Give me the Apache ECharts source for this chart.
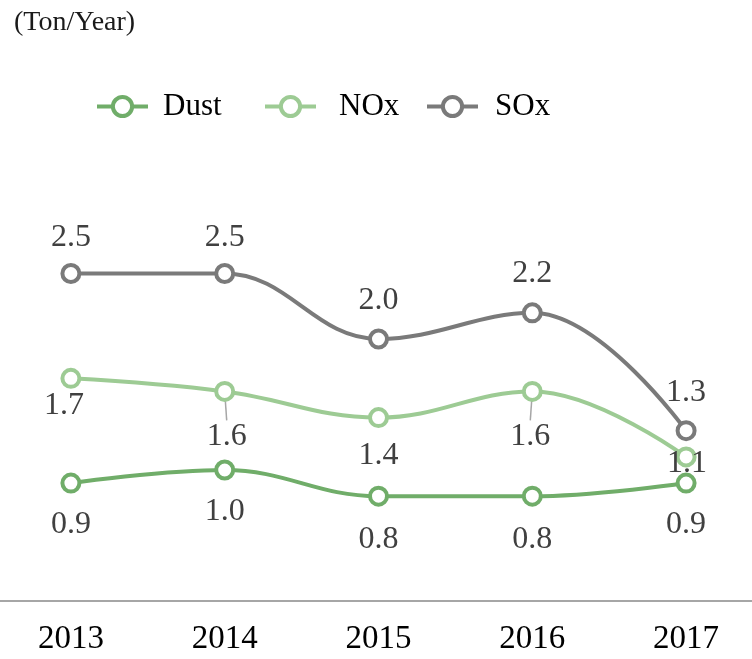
<!DOCTYPE html>
<html>
<head>
<meta charset="utf-8">
<script src="https://cdn.jsdelivr.net/npm/echarts@6/dist/echarts.min.js"></script>
<style>
html,body{margin:0;padding:0;background:#fff;}
#chart{width:752px;height:659px;}
</style>
</head>
<body>
<div id="chart"></div>
<script>
const years = ['2013', '2014', '2015', '2016', '2017'];
const dust = [0.9, 1.0, 0.8, 0.8, 0.9];
const nox = [1.7, 1.6, 1.4, 1.6, 1.1];
const sox = [2.5, 2.5, 2.0, 2.2, 1.3];
const seriesNames = ['Dust', 'NOx', 'SOx'];
const unitText = '(Ton/Year)';

const FONT = '"Liberation Serif", "DejaVu Serif", serif';
const colors = ['#70ad69', '#9dcb94', '#7a7a7a'];

// label offsets (layout only)
const dustOff = [[0, 41], [0, 42], [0, 43], [0, 43], [0, 41]];
const soxOff = [[0, -36], [0, -36], [0, -38], [0, -39], [0, -38]];
const noxOff = [[-7, 27], [2, 45], [0, 38], [-2, 45], [1, 7]];
const noxLeader = [false, true, false, true, false];
const legendLeft = [90, 258, 420];
const legendTextPad = [10, 18, 12];

function mkSeries(name, vals, color, offs, leaders) {
  return {
    name: name,
    type: 'line',
    smooth: 0.4,
    data: vals.map((v, i) => ({
      value: v,
      labelLine: { show: !!(leaders && leaders[i]) }
    })),
    symbol: 'circle',
    symbolSize: 17,
    showAllSymbol: true,
    lineStyle: { color: color, width: 4 },
    itemStyle: { color: '#ffffff', borderColor: color, borderWidth: 4 },
    label: {
      show: true,
      position: 'inside',
      fontFamily: FONT,
      fontSize: 32,
      color: '#404040',
      formatter: p => Number(p.value).toFixed(1)
    },
    labelLine: { show: false, lineStyle: { color: '#a6a6a6', width: 1.5 }, length2: 0 },
    labelLayout: function (params) {
      const o = offs[params.dataIndex];
      return { dx: o[0], dy: o[1] };
    },
    emphasis: { disabled: true }
  };
}

const legends = seriesNames.map((n, i) => ({
  data: [n],
  left: legendLeft[i],
  top: 86,
  itemWidth: 51,
  itemHeight: 24,
  lineStyle: { width: 4 },
  itemStyle: { borderWidth: 4 },
  textStyle: { fontFamily: FONT, fontSize: 31, color: '#000000', padding: [0, 0, 0, legendTextPad[i]] },
  selectedMode: false
}));

const chart = echarts.init(document.getElementById('chart'), null, { renderer: 'canvas' });
chart.setOption({
  animation: false,
  backgroundColor: '#ffffff',
  title: {
    text: unitText,
    left: 9,
    top: 4,
    textStyle: { fontFamily: FONT, fontSize: 28, fontWeight: 'normal', color: '#1a1a1a' }
  },
  legend: legends,
  grid: { left: -6, right: -11, top: 208, bottom: 58, outerBoundsMode: 'none', containLabel: false },
  xAxis: {
    type: 'category',
    data: years,
    boundaryGap: true,
    axisLine: { show: true, lineStyle: { color: '#a6a6a6', width: 2 } },
    axisTick: { show: false },
    axisLabel: { fontFamily: FONT, fontSize: 33, color: '#000000', margin: 22 },
    splitLine: { show: false }
  },
  yAxis: {
    type: 'value',
    min: 0,
    max: 3,
    show: false,
    splitLine: { show: false }
  },
  series: [
    mkSeries(seriesNames[0], dust, colors[0], dustOff, null),
    mkSeries(seriesNames[1], nox, colors[1], noxOff, noxLeader),
    mkSeries(seriesNames[2], sox, colors[2], soxOff, null)
  ]
});
</script>
</body>
</html>
